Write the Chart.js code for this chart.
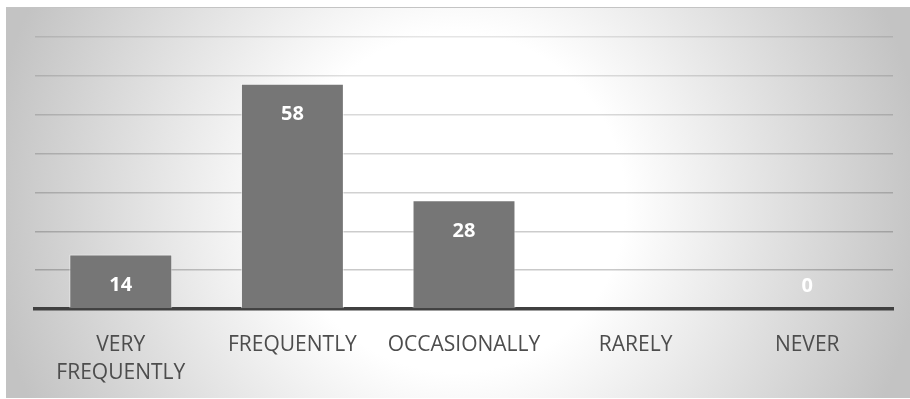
<!DOCTYPE html>
<html>
<head>
<meta charset="utf-8">
<script src="https://cdn.jsdelivr.net/npm/chart.js@4.4.1/dist/chart.umd.min.js"></script>
<style>
  html, body { margin: 0; padding: 0; background: #fff; }
  #wrap {
    position: absolute; left: 6px; top: 7px; width: 904px; height: 390px;
    border-top: 1px solid #c4c4c4;
    background: radial-gradient(circle 470px at 450px 195px, #ffffff 0%, #ffffff 36%, #c3c3c3 100%);
  }
</style>
</head>
<body>
<div id="wrap"><canvas id="chart" width="904" height="390"></canvas></div>
<script>
const categories = [['VERY', 'FREQUENTLY'], 'FREQUENTLY', 'OCCASIONALLY', 'RARELY', 'NEVER'];
const values = [14, 58, 28, null, 0];
const yTicks = [0, 10, 20, 30, 40, 50, 60, 70];

// grid lines get a little fainter towards the top
const gridShade = ['transparent', 'rgba(0,0,0,0.21)', 'rgba(0,0,0,0.2)', 'rgba(0,0,0,0.18)',
                   'rgba(0,0,0,0.17)', 'rgba(0,0,0,0.15)', 'rgba(0,0,0,0.13)', 'rgba(0,0,0,0.1)'];

const barLabels = {
  id: 'barLabels',
  afterDraw(chart) {
    const ctx = chart.ctx;
    const meta = chart.getDatasetMeta(0);
    ctx.save();
    ctx.font = 'bold 20px "Open Sans"';
    ctx.fillStyle = '#ffffff';
    ctx.textAlign = 'center';
    ctx.textBaseline = 'middle';
    meta.data.forEach((bar, i) => {
      const v = values[i];
      if (v === null) return;
      const y = v > 0 ? bar.y + 31 : bar.y - 23;
      ctx.fillText(String(v), bar.x, y);
    });
    ctx.restore();
  }
};

new Chart(document.getElementById('chart'), {
  type: 'bar',
  data: {
    labels: categories,
    datasets: [{
      data: values,
      backgroundColor: '#767676',
      borderColor: 'rgba(255,255,255,0.55)',
      borderWidth: 1,
      barPercentage: 0.6,
      categoryPercentage: 1
    }]
  },
  options: {
    responsive: false,
    animation: false,
    layout: { padding: { left: 29, right: 17, top: 29, bottom: 0 } },
    plugins: { legend: { display: false }, tooltip: { enabled: false } },
    scales: {
      x: {
        grid: { display: false, drawTicks: false },
        border: { color: '#404040', width: 3.5 },
        ticks: {
          color: '#4d4d4d',
          font: { family: '"Open Sans"', size: 21, lineHeight: 1.33 },
          padding: 22,
          maxRotation: 0,
          autoSkip: false
        },
        afterFit(scale) { scale.height = 89; }
      },
      y: {
        z: 1,
        min: 0,
        max: 70,
        afterBuildTicks(scale) { scale.ticks = yTicks.map(v => ({ value: v })); },
        grid: {
          drawTicks: false,
          lineWidth: 1.5,
          color: (c) => gridShade[c.index] || 'transparent'
        },
        border: { display: false },
        ticks: { display: false },
        afterFit(scale) { scale.width = 0; }
      }
    }
  },
  plugins: [barLabels]
});
</script>
</body>
</html>
